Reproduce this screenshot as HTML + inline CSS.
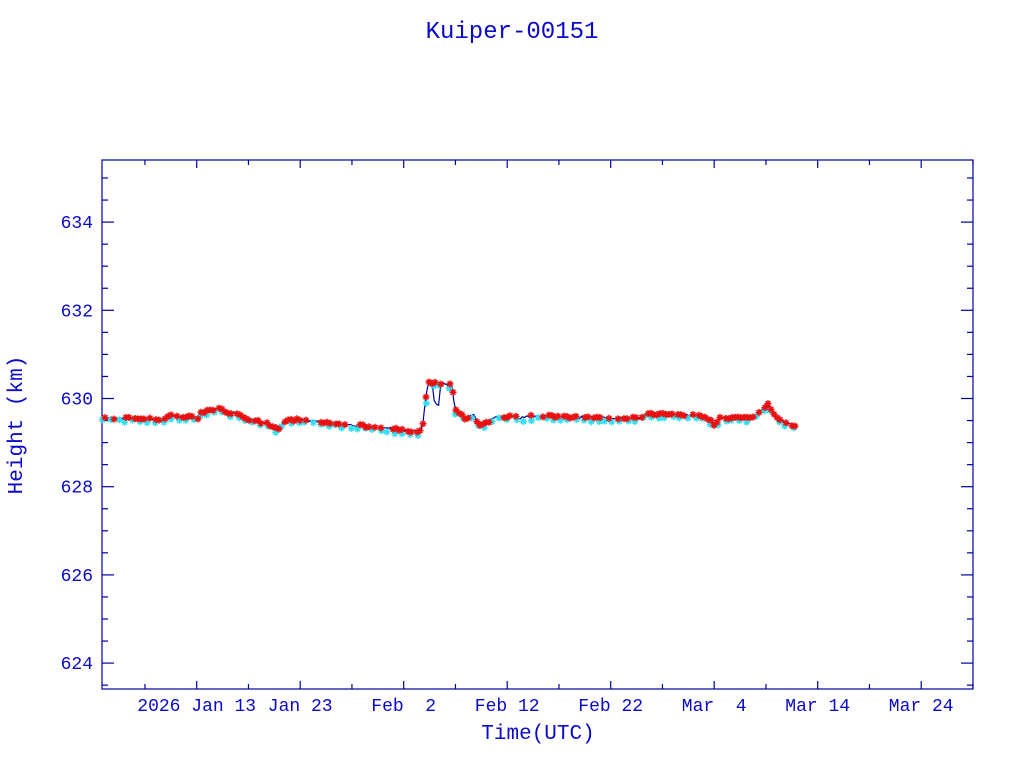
<!DOCTYPE html>
<html><head><meta charset="utf-8"><style>
html,body{margin:0;padding:0;background:#fff;width:1024px;height:768px;overflow:hidden}
svg text{font-family:"Liberation Mono",monospace;fill:#0a0ac8;white-space:pre}
</style></head><body>
<svg id="s" width="1024" height="768" xmlns="http://www.w3.org/2000/svg">
<text x="512" y="38" font-size="24" text-anchor="middle">Kuiper-00151</text>
<text x="538" y="739" font-size="21" text-anchor="middle">Time(UTC)</text>
<text transform="translate(22,425) rotate(-90)" font-size="21" text-anchor="middle">Height (km)</text>
<rect x="102" y="160" width="871" height="529" fill="none" stroke="#0000a0" stroke-width="1.2"/>
<g id="ticks" stroke="#0000a0" stroke-width="1.2"></g>
<g id="labels" font-size="18"></g>
<polyline id="ln" fill="none" stroke="#0000a0" stroke-width="1.2"/>
<g id="cy" stroke="#30e0f0" stroke-width="1.5"></g>
<g id="rd" stroke="#e81010" stroke-width="1.5"></g>
</svg>
<script>
var NS="http://www.w3.org/2000/svg";
function el(p,t,a,txt){var e=document.createElementNS(NS,t);for(var k in a)e.setAttribute(k,a[k]);if(txt)e.textContent=txt;document.getElementById(p).appendChild(e);}
function Y(v){return 398.5-(v-630)*44.1;}
for(var v=623.5;v<=635.4;v+=0.5){var y=Y(v);if(y<160||y>689)continue;var maj=Math.abs(v/2-Math.round(v/2))<1e-6;var L=maj?12:6;
el("ticks","line",{x1:102,y1:y,x2:102+L,y2:y});el("ticks","line",{x1:973,y1:y,x2:973-L,y2:y});
if(maj)el("labels","text",{x:93,y:y+6,"text-anchor":"end"},String(v));}
var x0=196.7,d=10.35;
for(var k=-1;k<=15;k++){var x=x0+k*51.75;if(x<102||x>973)continue;var L=(k%2==0)?8:5;
el("ticks","line",{x1:x,y1:689,x2:x,y2:689-L});el("ticks","line",{x1:x,y1:160,x2:x,y2:160+L});}
var labs=["2026 Jan 13","Jan 23","Feb  2","Feb 12","Feb 22","Mar  4","Mar 14","Mar 24"];
for(var i=0;i<labs.length;i++){el("labels","text",{x:x0+i*103.5,y:711,"text-anchor":"middle"},labs[i]);}
var K=[[102,418],[158,419],[163,421],[168,416],[198,418],[202,412],[215,411],[218,407],[228,413],[240,414],[248,420],[265,423],[278,430],[285,421],[300,420],[320,422],[400,430],[420,432],[423,424],[425,403],[428,383],[440,383],[452,385],[455,410],[460,414],[465,419],[470,416],[473,412],[477,422],[482,426],[490,421],[495,416],[520,418],[535,416],[600,418],[640,418],[645,414],[700,416],[712,421],[715,427],[720,418],[750,418],[760,412],[768,405],[775,416],[780,421],[795,426]];
function f(x){for(var i=0;i<K.length-1;i++){if(x>=K[i][0]&&x<=K[i+1][0]){var t=(x-K[i][0])/(K[i+1][0]-K[i][0]);return K[i][1]+t*(K[i+1][1]-K[i][1]);}}return K[K.length-1][1];}
var pts=[],seed=3;function r(){seed=(seed*9301+49297)%233280;return seed/233280;}
for(var x=102;x<=795;x+=2.2){var y=f(x)+(r()-0.5)*2.5;if(x>424&&x<450&&r()<0.3)y+=12+r()*14;pts.push(x.toFixed(1)+","+y.toFixed(1));}
document.getElementById("ln").setAttribute("points",pts.join(" "));
function star(g,x,y,s){var p="M"+(x-s)+" "+y+"h"+2*s+"M"+x+" "+(y-s)+"v"+2*s+"M"+(x-s*0.7)+" "+(y-s*0.7)+"l"+1.4*s+" "+1.4*s+"M"+(x-s*0.7)+" "+(y+s*0.7)+"l"+1.4*s+" "+(-1.4*s);el(g,"path",{d:p});}
for(var x=103;x<=795;x+=7.5){star("cy",x+(r()-0.5)*3,f(x)+2+(r()-0.3)*3,3.5);}
for(var x=102;x<=795;x+=3){if(r()<0.65)star("rd",x,f(x)+(r()-0.6)*2.5,3.5);}
</script>
</body></html>
